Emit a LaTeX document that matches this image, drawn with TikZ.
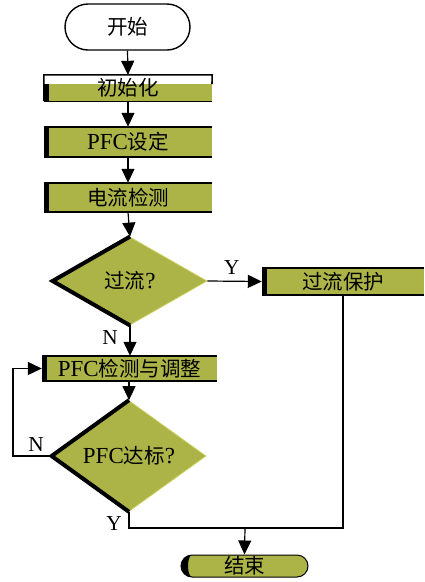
\documentclass[tikz,border=0pt]{standalone}
\usepackage{fontspec}
\setmainfont[Scale=1.12]{Liberation Serif}
\newfontfamily\cjk{Noto Sans CJK SC}
\usetikzlibrary{shapes.geometric,arrows.meta}
\definecolor{olive}{RGB}{172,180,72}
\definecolor{edgey}{RGB}{205,208,96}
\begin{document}
\begin{tikzpicture}[x=1pt,y=-1pt,
  txt/.style={font=\fontsize{20.5}{24}\selectfont},
  obox/.style={txt,fill=olive,inner sep=0pt,minimum width=#1},
  dia/.style={txt,diamond,fill=olive,draw=edgey,line width=0.8pt,minimum width=154pt,minimum height=88pt,inner sep=0pt},
  arr/.style={line width=1.2pt,-{Triangle[length=14pt,width=13pt]}},
  ln/.style={line width=1.2pt},
  lab/.style={font=\fontsize{19}{22}\selectfont}]
\useasboundingbox (0,0) rectangle (424,582);
% start
\node[txt,draw,line width=1.4pt,fill=white,rounded corners=23pt,minimum width=125pt,minimum height=46pt,inner sep=0pt] (start) at (127.5,27) {{\cjk 开始}};
% init box (white top band, olive lower band)
\fill[olive] (44,84) rectangle (212,101);
\node[txt,inner sep=0pt,minimum width=168pt,minimum height=26pt] (init) at (128,88) {\raisebox{-5pt}{\cjk 初始化}};
\draw[line width=1.6pt] (init.south west) |- (init.north east) -- (212,84);
\draw[line width=1.4pt] (init.south west) -- (init.south east);
\fill (44,84) rectangle (49,101);
% boxes
\node[obox=168pt,minimum height=30pt] (set) at (128,142) {PFC{\cjk 设定}};
\node[obox=168pt,minimum height=29pt] (det) at (128,197.5) {{\cjk 电流检测}};
\node[obox=175pt,minimum height=25pt] (pfc) at (129.5,368.5) {PFC{\cjk 检测与调整}};
\node[obox=162pt,minimum height=27pt] (prot) at (343,281.5) {{\cjk 过流保护}};
\foreach \n in {set,det,pfc,prot}{
  \draw[line width=1.6pt] (\n.north west) -- (\n.north east);
  \draw[line width=1.6pt] (\n.south west) -- (\n.south east);
  \fill (\n.north west) rectangle ([xshift=5pt]\n.south west);
}
% diamonds
\node[dia] (d1) at (130,281) {{\cjk 过流}?};
\draw[line width=4pt,line join=miter] (d1.north) -- (d1.west) -- (d1.south);
\node[dia] (d2) at (129,456) {PFC{\cjk 达标}?};
\draw[line width=4pt,line join=miter] (d2.north) -- (d2.west) -- (d2.south);
% end
\node[txt,draw,line width=1pt,fill=olive,rounded corners=11pt,minimum width=127pt,minimum height=22pt,inner sep=0pt] (end) at (244.5,566) {{\cjk 结束}};
\fill (192,555) arc (270:90:11) arc (90:270:4 and 11);
% connectors
\draw[arr] (start.south) -- (init.north);
\draw[arr] (init.south) -- (set.north);
\draw[arr] (set.south) -- (det.north);
\draw[arr] (det.south) -- (d1.north);
\draw[arr] (d1.east) -- node[lab,above,pos=0.45,yshift=2pt]{Y} (prot.west);
\draw[arr] (d1.south) -- node[lab,left,pos=0.4,xshift=-8pt]{N} (d1.south |- pfc.north);
\draw[arr] (pfc.south -| d2.north) -- (d2.north);
\coordinate (lp) at (13,456);
\draw[arr] (d2.west) -- node[lab,above,pos=0.4]{N} (lp) |- (pfc.west);
\coordinate (j) at (245,528);
\draw[ln] (d2.south) |- node[lab,left,pos=0.35,xshift=-3pt]{Y} (j) -| (prot.south);
\draw[arr] (j) -- (end.north);
\end{tikzpicture}
\end{document}
